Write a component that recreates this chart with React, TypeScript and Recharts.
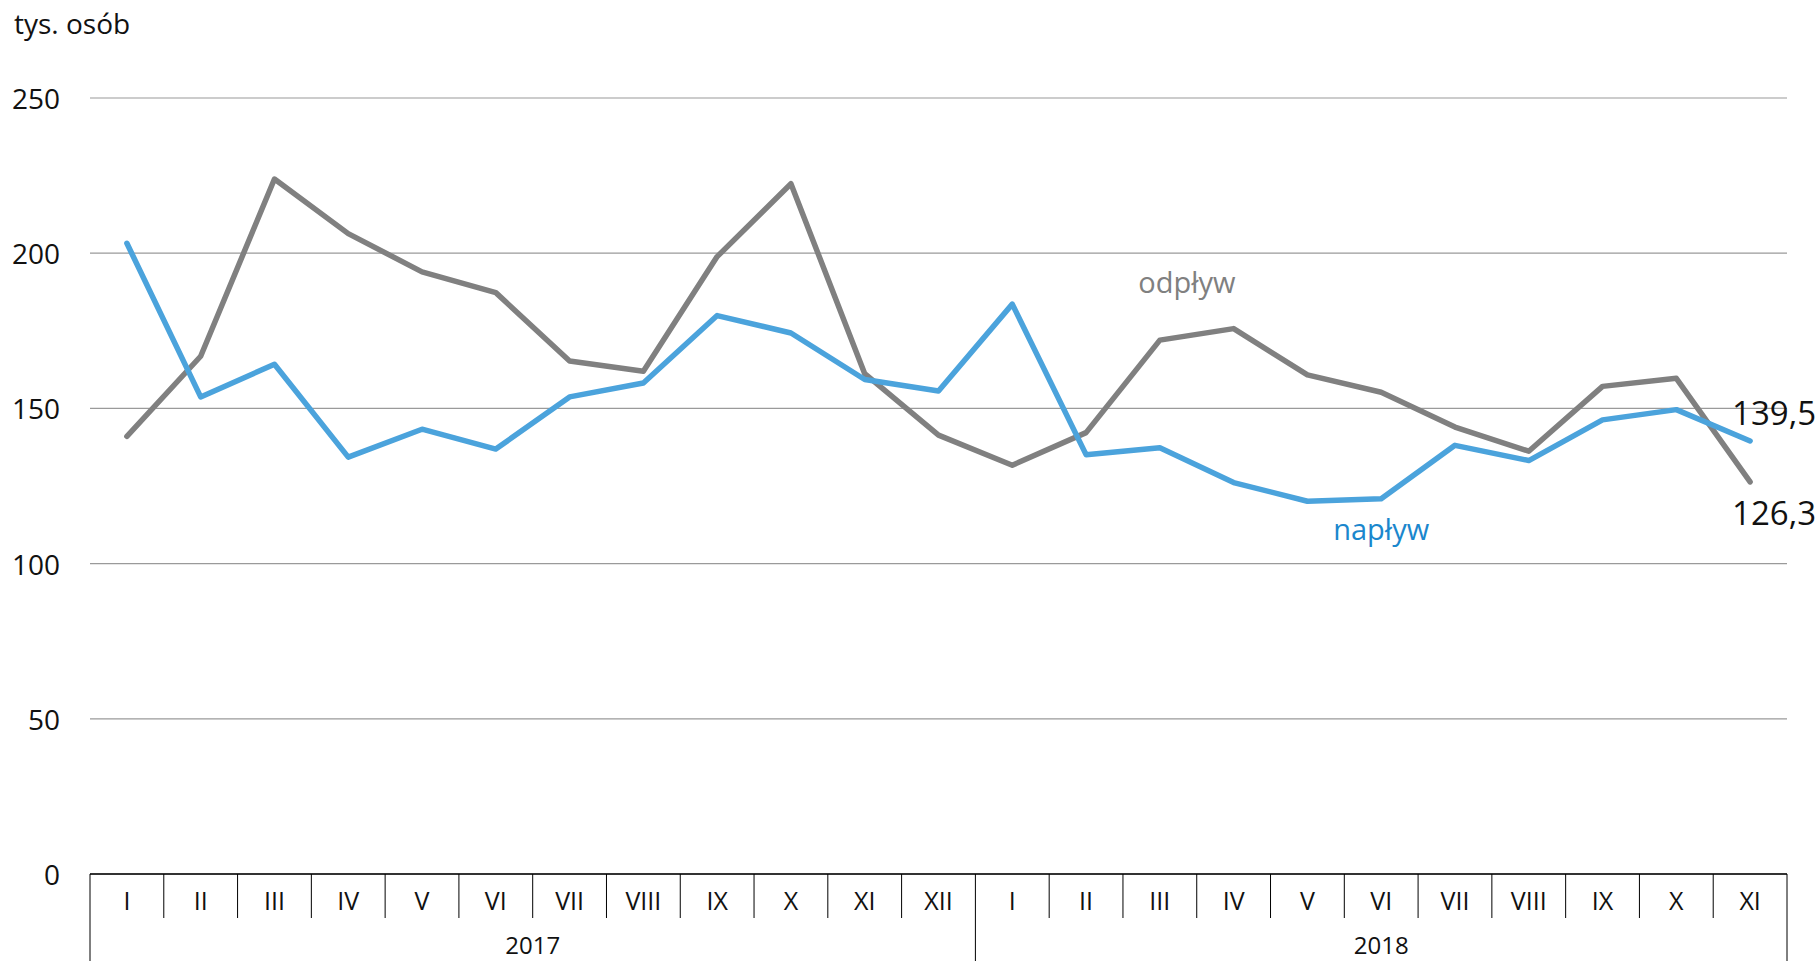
import {
  LineChart,
  Line,
  XAxis,
  YAxis,
  CartesianGrid,
  ReferenceDot,
  LabelList,
} from "recharts";

const months = ["I", "II", "III", "IV", "V", "VI", "VII", "VIII", "IX", "X", "XI", "XII"];
const years = ["2017", "2018"];
const monthsPerYear = [12, 11];

// tys. osób
const odplyw = [
  141, 166.8, 223.9, 206.3, 194, 187.3, 165.3, 162, 198.9, 222.4, 161.2, 141.4,
  131.7, 142.2, 172, 175.7, 160.8, 155.2, 144, 136.2, 157.1, 159.7, 126.3,
];
const naplyw = [
  203.2, 153.7, 164.2, 134.3, 143.3, 136.9, 153.7, 158.2, 179.9, 174.3, 159.3, 155.6,
  183.6, 135.1, 137.3, 126.1, 120.1, 120.9, 138.1, 133.2, 146.3, 149.6, 139.5,
];
const yTicks = [0, 50, 100, 150, 200, 250];

const categories = years.flatMap((y, yi) =>
  months.slice(0, monthsPerYear[yi]).map((m) => `${m}-${y}`)
);

const data = categories.map((key, i) => ({
  key,
  odplyw: odplyw[i],
  naplyw: naplyw[i],
}));

const W = 1816;
const H = 961;
const LEFT = 90;
const RIGHT = 29;
const TOP = 98;
const X_AXIS_H = 87;
const AXIS_Y = H - X_AXIS_H;
const BW = (W - LEFT - RIGHT) / categories.length;

const GRAY = "#808080";
const BLUE = "#4ba3dc";

function MonthTick(props: any) {
  const { x, payload, index } = props;
  const [month, year] = String(payload.value).split("-");
  const left = x - BW / 2;
  const yearStart = month === "I";
  const yi = years.indexOf(year);
  const last = index === categories.length - 1;
  return (
    <g>
      <line
        x1={left}
        x2={left}
        y1={AXIS_Y}
        y2={yearStart ? H : AXIS_Y + 44}
        stroke="#000"
        strokeWidth={1}
      />
      {last && (
        <line x1={x + BW / 2} x2={x + BW / 2} y1={AXIS_Y} y2={H} stroke="#000" strokeWidth={1} />
      )}
      <text
        x={x}
        y={AXIS_Y + 26}
        textAnchor="middle"
        dominantBaseline="central"
        fontSize={25}
        fill="#111"
      >
        {month}
      </text>
      {yearStart && (
        <text
          x={left + (monthsPerYear[yi] * BW) / 2}
          y={AXIS_Y + 70}
          textAnchor="middle"
          dominantBaseline="central"
          fontSize={24}
          fill="#111"
        >
          {year}
        </text>
      )}
    </g>
  );
}

function ValueTick(props: any) {
  const { y, payload } = props;
  return (
    <text x={60} y={y} textAnchor="end" dominantBaseline="central" fontSize={28} fill="#111">
      {payload.value}
    </text>
  );
}

const endLabel = (dy: number) => (props: any) => {
  const { x, y, index, value } = props;
  if (index !== categories.length - 1) return null;
  return (
    <text x={x - 18} y={y + dy} dominantBaseline="central" fontSize={33} fill="#111">
      {String(value).replace(".", ",")}
    </text>
  );
};

export default function App() {
  return (
    <div
      style={{
        position: "absolute",
        left: 0,
        top: 0,
        width: W,
        height: H,
        background: "#fff",
        fontFamily: "'Open Sans', 'Noto Sans', sans-serif",
      }}
    >
      <div style={{ position: "absolute", left: 14, top: 4, fontSize: 28, color: "#111" }}>
        tys. osób
      </div>
      <LineChart
        width={W}
        height={H}
        data={data}
        margin={{ top: TOP, right: RIGHT, left: 0, bottom: 0 }}
      >
        <CartesianGrid vertical={false} stroke="#9a9a9a" strokeWidth={1.2} />
        <XAxis
          dataKey="key"
          scale="band"
          interval={0}
          height={X_AXIS_H}
          tickLine={false}
          axisLine={{ stroke: "#000", strokeWidth: 1.5 }}
          tick={<MonthTick />}
        />
        <YAxis
          width={LEFT}
          domain={[0, 250]}
          ticks={yTicks}
          axisLine={false}
          tickLine={false}
          tick={<ValueTick />}
        />
        <Line
          dataKey="odplyw"
          stroke={GRAY}
          strokeWidth={5.5}
          strokeLinecap="round"
          strokeLinejoin="round"
          dot={false}
          isAnimationActive={false}
        >
          <LabelList dataKey="odplyw" content={endLabel(31)} />
        </Line>
        <Line
          dataKey="naplyw"
          stroke={BLUE}
          strokeWidth={5.5}
          strokeLinecap="round"
          strokeLinejoin="round"
          dot={false}
          isAnimationActive={false}
        >
          <LabelList dataKey="naplyw" content={endLabel(-28)} />
        </Line>
        <ReferenceDot
          x="III-2018"
          y={190.4}
          r={0}
          stroke="none"
          label={{ value: "odpływ", position: "center", fill: GRAY, fontSize: 29, dx: 27 }}
        />
        <ReferenceDot
          x="VI-2018"
          y={111}
          r={0}
          stroke="none"
          label={{ value: "napływ", position: "center", fill: "#1b87cd", fontSize: 29, dx: 0 }}
        />
      </LineChart>
    </div>
  );
}
